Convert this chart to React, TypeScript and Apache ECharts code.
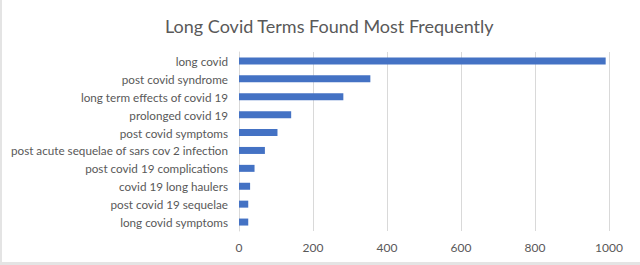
import React, { useEffect, useRef } from "react";
import * as echarts from "echarts";

const titleText = "Long Covid Terms Found Most Frequently";
const categories = [
  "long covid",
  "post covid syndrome",
  "long term effects of covid 19",
  "prolonged covid 19",
  "post covid symptoms",
  "post acute sequelae of sars cov 2 infection",
  "post covid 19 complications",
  "covid 19 long haulers",
  "post covid 19 sequelae",
  "long covid symptoms",
];
const values = [991, 355, 282, 141, 104, 70, 42, 30, 25, 25];
const xTicks = [0, 200, 400, 600, 800, 1000];

export default function App() {
  const ref = useRef<HTMLDivElement>(null);
  useEffect(() => {
    if (!ref.current) return;
    const chart = echarts.init(ref.current, null, { renderer: "svg" });
    const font = "Lato, Open Sans, sans-serif";
    chart.setOption({
      animation: false,
      backgroundColor: "#ffffff",
      title: {
        text: titleText,
        left: 158,
        top: 12,
        textStyle: { fontFamily: font, fontSize: 18, fontWeight: "normal", color: "#595959" },
      },
      grid: { left: 237, right: 31, top: 52, bottom: 31, containLabel: false, outerBoundsMode: "none" },
      xAxis: {
        type: "value",
        min: xTicks[0],
        max: xTicks[xTicks.length - 1],
        interval: 200,
        axisLine: { show: false },
        axisTick: { show: false },
        axisLabel: {
          color: "#595959",
          fontFamily: font,
          fontSize: 12,
          margin: 10,
          formatter: (v: number) => String(v),
        },
        splitLine: { show: true, lineStyle: { color: "#d9d9d9", width: 1 } },
      },
      yAxis: {
        type: "category",
        data: categories,
        inverse: true,
        axisLine: { show: true, lineStyle: { color: "#d9d9d9" } },
        axisTick: { show: false },
        axisLabel: { color: "#595959", fontFamily: font, fontSize: 11.7, margin: 11 },
      },
      series: [
        {
          type: "bar",
          data: values,
          barWidth: 7,
          itemStyle: { color: "#4472c4" },
        },
      ],
    });
    return () => chart.dispose();
  }, []);
  return (
    <div
      ref={ref}
      style={{
        position: "absolute",
        left: 0,
        top: 0,
        width: 640,
        height: 265,
        boxSizing: "border-box",
        borderLeft: "2px solid #e4e4e4",
        borderBottom: "3px solid #e4e4e4",
      }}
    />
  );
}
